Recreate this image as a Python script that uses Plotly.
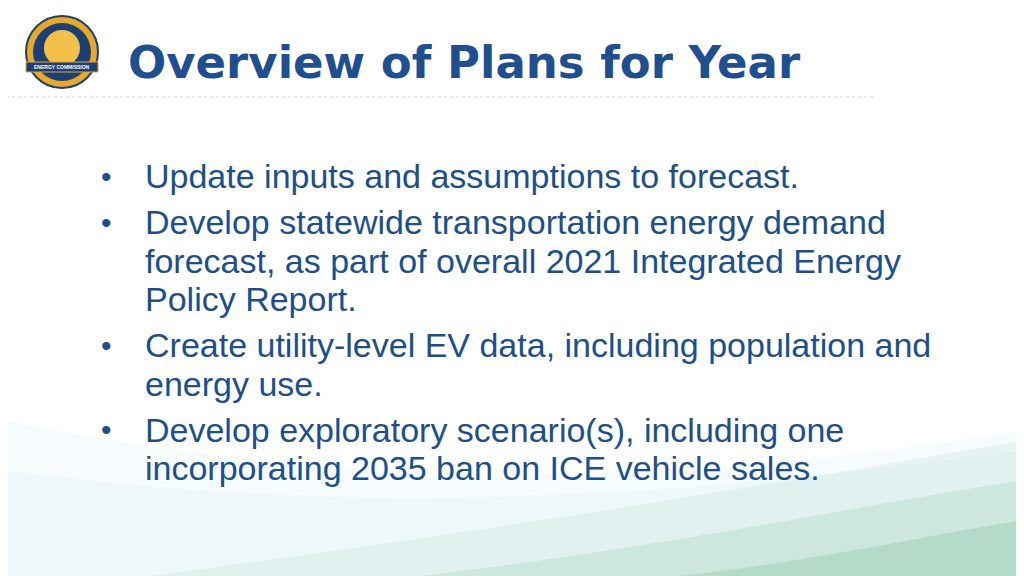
import plotly.graph_objects as go

title = "Overview of Plans for Year"
bullets = [
    ["Update inputs and assumptions to forecast."],
    ["Develop statewide transportation energy demand",
     "forecast, as part of overall 2021 Integrated Energy",
     "Policy Report."],
    ["Create utility-level EV data, including population and",
     "energy use."],
    ["Develop exploratory scenario(s), including one",
     "incorporating 2035 ban on ICE vehicle sales."],
]

navy = "#1d4f8a"
fig = go.Figure()
# page body has an 8px margin, so offset ranges to keep pixel coordinates
fig.update_xaxes(range=[8, 1032], visible=False, fixedrange=True)
fig.update_yaxes(range=[584, 8], visible=False, fixedrange=True)

# soft background bands in bottom area
bands = [
    ("M0,576 L0,420 C300,480 600,500 1024,430 L1024,576 Z", "rgba(220,238,246,0.25)"),
    ("M0,576 L0,470 C300,510 600,510 1024,450 L1024,576 Z", "rgba(215,235,245,0.25)"),
    ("M150,576 C500,530 800,480 1024,440 L1024,576 Z", "rgba(200,230,220,0.35)"),
    ("M420,576 C680,545 860,505 1024,480 L1024,576 Z", "rgba(175,218,195,0.4)"),
    ("M680,576 C820,560 930,535 1024,520 L1024,576 Z", "rgba(150,205,175,0.45)"),
]
for p, c in bands:
    fig.add_shape(type="path", path=p, fillcolor=c, line_width=0, layer="below")

# dotted separator
fig.add_shape(type="line", x0=0, x1=875, y0=97, y1=97,
              line=dict(color="#d0d0d0", width=1, dash="dot"))

# logo
fig.add_shape(type="circle", x0=26, x1=98, y0=16, y1=88,
              fillcolor="#e7a928", line=dict(color="#1d3f74", width=2))
fig.add_shape(type="circle", x0=33, x1=91, y0=23, y1=81,
              fillcolor="#1d3f74", line_width=0)
fig.add_shape(type="circle", x0=44, x1=80, y0=30, y1=66,
              fillcolor="#f3c14a", line_width=0)
fig.add_shape(type="rect", x0=26, x1=98, y0=62, y1=72,
              fillcolor="#1d3f74", line=dict(color="#e7a928", width=1))
fig.add_annotation(x=62, y=67, text="<b>ENERGY COMMISSION</b>", showarrow=False,
                   font=dict(size=5, color="white", family="Liberation Sans"))

fig.add_annotation(x=126, y=62, text="<b>" + title + "</b>", showarrow=False,
                   xanchor="left", yanchor="middle",
                   font=dict(size=45, color="#1f4f8f", family="DejaVu Sans"))

y = 176
for group in bullets:
    fig.add_annotation(x=99, y=y, text="•", showarrow=False, xanchor="left",
                       yanchor="middle", font=dict(size=30, color=navy, family="Liberation Sans"))
    for line in group:
        fig.add_annotation(x=143, y=y, text=line, showarrow=False, xanchor="left",
                           yanchor="middle", font=dict(size=34, color=navy, family="Liberation Sans"))
        y += 38.5
    y += 7.5

fig.update_layout(width=1024, height=576, margin=dict(l=0, r=0, t=0, b=0),
                  plot_bgcolor="white", paper_bgcolor="white", showlegend=False)
fig.write_html("out.html")
